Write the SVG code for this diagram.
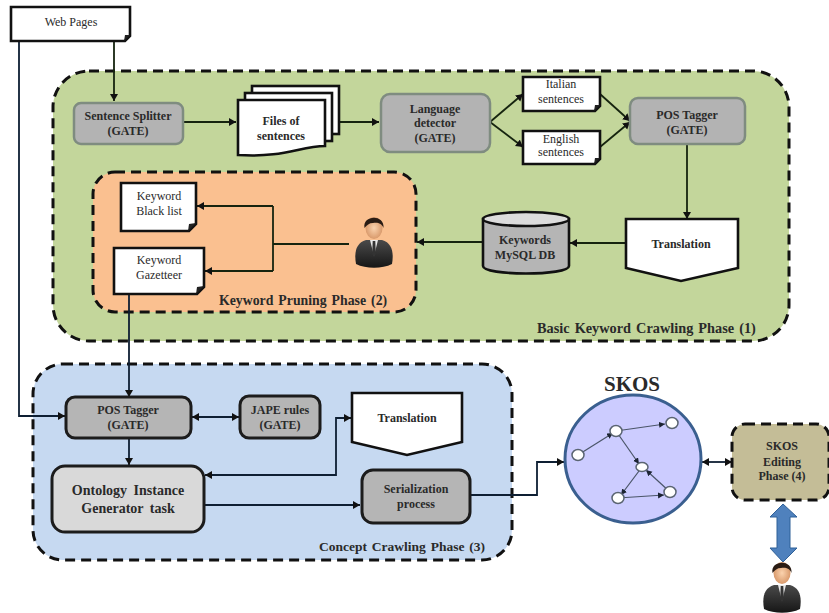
<svg xmlns="http://www.w3.org/2000/svg" width="829" height="613" viewBox="0 0 829 613">
<style>
text{font-family:"Liberation Serif","Times New Roman",serif;fill:#2a2a2a;text-anchor:middle}
.b{font-weight:bold}
.s{font-size:12px}
.m{font-size:12px;font-weight:bold}
.ph{font-size:13.800px;font-weight:bold;text-anchor:start;word-spacing:1.500px}
.phase{stroke:#111;stroke-width:3;stroke-dasharray:10 6;fill:none}
.gr{fill:#b3b3b3;stroke:#7f8c80;stroke-width:2.500}
.dk{fill:#b5b5b5;stroke:#1c1c1c;stroke-width:3}
.doc{fill:#fff;stroke:#111;stroke-width:2.600}
.fold{fill:#222}
.c{fill:none;stroke:#16240f;stroke-width:1.800}
.cb{fill:none;stroke:#0e1f33;stroke-width:1.800}
.g{fill:none;stroke:#4a5568;stroke-width:1.200}
.n{fill:#fff;stroke:#5a6472;stroke-width:1.500}
</style>
<defs>
<marker id="a" markerUnits="userSpaceOnUse" markerWidth="9" markerHeight="9" refX="7" refY="4" orient="auto-start-reverse"><path d="M0 0L7 4L0 8z" fill="#111"/></marker>
<marker id="t" markerUnits="userSpaceOnUse" markerWidth="8" markerHeight="7" refX="6" refY="3" orient="auto-start-reverse"><path d="M0 0L6 3L0 6z" fill="#1c2433"/></marker>
<linearGradient id="suit" x1="0" y1="0" x2="0" y2="1"><stop offset="0" stop-color="#4a4a4a"/><stop offset="1" stop-color="#161616"/></linearGradient>
<radialGradient id="skin"><stop offset="0" stop-color="#fbd3ae"/><stop offset="1" stop-color="#d99a6c"/></radialGradient>
<g id="person">
<path d="M-18 46C-20 34-18 25-8 22L8 22C18 25 20 34 18 46C8 51-8 51-18 46z" fill="url(#suit)"/>
<path d="M-4 22L0 38L4 22z" fill="#e8e8e8"/>
<path d="M-1.300 23L1.300 23L1.800 36L0 39L-1.800 36z" fill="#333"/>
<ellipse cx="0" cy="10" rx="8.500" ry="11" fill="url(#skin)"/>
<path d="M-9.500 10C-12-3 11-4 9.500 10C8 5 3 4-1 5C-5 5-7 7-9.500 10z" fill="#2a1c14"/>
</g>
</defs>

<g id="phase1"><rect x="53" y="71" width="736" height="270" rx="36" fill="#c3d69b"/><rect class="phase" x="53" y="71" width="736" height="270" rx="36"/><text class="ph" x="537" y="333" style="font-size:14.300px">Basic Keyword  Crawling  Phase (1)</text></g>
<g id="phase2"><rect x="93" y="172" width="323" height="140" rx="22" fill="#fac090"/><rect class="phase" x="93" y="172" width="323" height="140" rx="22"/><text class="ph" x="219" y="305">Keyword  Pruning  Phase (2)</text></g>
<g id="phase3"><rect x="33" y="364" width="479" height="196" rx="30" fill="#c6d9f1"/><rect class="phase" x="33" y="364" width="479" height="196" rx="30"/><text class="ph" x="319" y="551" style="font-size:13.500px">Concept Crawling  Phase (3)</text></g>

<g id="connectors">
<path class="c" d="M114 41V101" marker-end="url(#a)"/>
<path class="c" d="M184 122H236" marker-end="url(#a)"/>
<path class="c" d="M339 122H379" marker-end="url(#a)"/>
<path class="c" d="M490 122L523 94" marker-end="url(#a)"/>
<path class="c" d="M490 122L523 147" marker-end="url(#a)"/>
<path class="c" d="M600 94L630 121" marker-end="url(#a)"/>
<path class="c" d="M600 147L630 122" marker-end="url(#a)"/>
<path class="c" d="M687 145V219" marker-end="url(#a)"/>
<path class="c" d="M626 243H570" marker-end="url(#a)"/>
<path class="c" d="M482 242H417" marker-end="url(#a)"/>
<path class="c" d="M349 244H273"/>
<path class="c" d="M273 206V271"/>
<path class="c" d="M273 206H197" marker-end="url(#a)"/>
<path class="c" d="M273 271H205" marker-end="url(#a)"/>
<path class="cb" d="M129 294V397" marker-end="url(#a)"/>
<path class="cb" d="M19 41V416H65" marker-end="url(#a)"/>
<path class="cb" d="M192 417H239" marker-start="url(#a)" marker-end="url(#a)"/>
<path class="cb" d="M129 438V465" marker-end="url(#a)"/>
<path class="cb" d="M205 475H336V418H351" marker-start="url(#a)" marker-end="url(#a)"/>
<path class="cb" d="M205 505H360" marker-end="url(#a)"/>
<path class="cb" d="M471 495H537V462H564" marker-end="url(#a)"/>
<path class="cb" d="M702 462H732" marker-start="url(#a)" marker-end="url(#a)"/>
</g>

<g id="web-pages"><path class="doc" d="M11 7H130V36L125 41H11z"/><path class="fold" d="M124 41L130 35L125 35z"/><text class="s" x="71" y="26">Web Pages</text></g>
<g id="sentence-splitter"><rect class="gr" x="74" y="103" width="109" height="41" rx="7"/><text class="m" x="128" y="120">Sentence Splitter</text><text class="m" x="128" y="135">(GATE)</text></g>
<g id="files"><rect class="doc" x="252" y="86" width="87" height="48"/><rect class="doc" x="245" y="93" width="87" height="48"/><path class="doc" d="M238 100H325V146C300 146 285 158 238 155z"/><text class="m" x="281" y="125">Files of</text><text class="m" x="281" y="140">sentences</text></g>
<g id="language-detector"><rect class="gr" x="381" y="94" width="109" height="58" rx="9"/><text class="m" x="435" y="113">Language</text><text class="m" x="435" y="127">detector</text><text class="m" x="435" y="142">(GATE)</text></g>
<g id="italian"><path class="doc" d="M523 77H600V106L595 111H523z"/><path class="fold" d="M594 111L600 105L595 105z"/><text class="s" x="561" y="88">Italian</text><text class="s" x="561" y="103">sentences</text></g>
<g id="english"><path class="doc" d="M523 131H600V159L595 164H523z"/><path class="fold" d="M594 164L600 158L595 158z"/><text class="s" x="561" y="143">English</text><text class="s" x="561" y="156">sentences</text></g>
<g id="pos-tagger-1"><rect class="gr" x="630" y="98" width="115" height="46" rx="8"/><text class="m" x="687" y="119">POS Tagger</text><text class="m" x="687" y="134">(GATE)</text></g>
<g id="translation-1"><path class="doc" d="M626 219H738V268L681 281L626 268z"/><text class="m" x="681" y="248">Translation</text></g>
<g id="keywords-db"><path d="M483 219V266C483 276 569 276 569 266V219z" fill="#b5b5b5" stroke="#111" stroke-width="2.600"/><ellipse cx="526" cy="219" rx="43" ry="7" fill="#dcdcdc" stroke="#111" stroke-width="2.600"/><text class="m" x="525" y="244">Keywords</text><text class="m" x="525" y="259">MySQL  DB</text></g>
<g id="black-list"><path class="doc" d="M121 183H196V224L189 231H121z"/><path class="fold" d="M188 231L196 223L189 224z"/><text class="s" x="159" y="200">Keyword</text><text class="s" x="159" y="215">Black list</text></g>
<g id="gazetteer"><path class="doc" d="M114 248H204V287L197 294H114z"/><path class="fold" d="M196 294L204 286L197 287z"/><text class="s" x="159" y="264">Keyword</text><text class="s" x="159" y="279">Gazetteer</text></g>
<g id="person-1"><use href="#person" x="374" y="218"/></g>
<g id="pos-tagger-2"><rect class="dk" x="66" y="397" width="125" height="41" rx="9"/><text class="m" x="128" y="414">POS Tagger</text><text class="m" x="128" y="429">(GATE)</text></g>
<g id="jape"><rect class="dk" x="240" y="396" width="80" height="42" rx="9"/><text class="m" x="280" y="414">JAPE  rules</text><text class="m" x="280" y="429">(GATE)</text></g>
<g id="translation-2"><path class="doc" d="M352 393H462V442L407 455L352 442z"/><text class="m" x="407" y="422">Translation</text></g>
<g id="ontology"><rect x="52" y="466" width="152" height="66" rx="13" fill="#d9d9d9" stroke="#1c1c1c" stroke-width="3"/><text class="b" x="128" y="495" style="font-size:14px;word-spacing:3px">Ontology  Instance</text><text class="b" x="128" y="513" style="font-size:14px;word-spacing:3px">Generator  task</text></g>
<g id="serialization"><rect class="dk" x="362" y="470" width="108" height="53" rx="11"/><text class="m" x="416" y="493">Serialization</text><text class="m" x="416" y="508">process</text></g>
<g id="skos"><text class="b" x="632" y="391" style="font-size:21px">SKOS</text><ellipse cx="633" cy="459" rx="68" ry="64" fill="#ccccff" stroke="#3a5f8f" stroke-width="3"/>
<path class="g" d="M578 455L613 433" marker-end="url(#t)"/><path class="g" d="M616 431L665 424" marker-end="url(#t)"/><path class="g" d="M616 431L639 464" marker-end="url(#t)"/><path class="g" d="M642 467L621 495" marker-end="url(#t)"/><path class="g" d="M670 492L646 470" marker-end="url(#t)"/><path class="g" d="M618 498L664 495" marker-end="url(#t)"/>
<ellipse class="n" cx="578" cy="455" rx="6" ry="5.500"/><ellipse class="n" cx="616" cy="431" rx="6" ry="5.500"/><ellipse class="n" cx="672" cy="423" rx="6" ry="5.500"/><ellipse class="n" cx="642" cy="467" rx="6" ry="4.500"/><ellipse class="n" cx="618" cy="498" rx="6" ry="5.500"/><ellipse class="n" cx="670" cy="492" rx="6" ry="5.500"/></g>
<g id="skos-editing"><rect x="732" y="424" width="97" height="76" rx="13" fill="#c4bd97"/><rect class="phase" x="732" y="424" width="97" height="76" rx="13"/><text class="m" x="782" y="450">SKOS</text><text class="m" x="782" y="466">Editing</text><text class="m" x="782" y="480">Phase (4)</text></g>
<g id="double-arrow"><path d="M783 504L797 517H790V548H797L783 562L770 548H777V517H770z" fill="#4f81bd" stroke="#2f6098" stroke-width="1"/></g>
<g id="person-2"><use href="#person" x="782" y="563"/></g>
</svg>
